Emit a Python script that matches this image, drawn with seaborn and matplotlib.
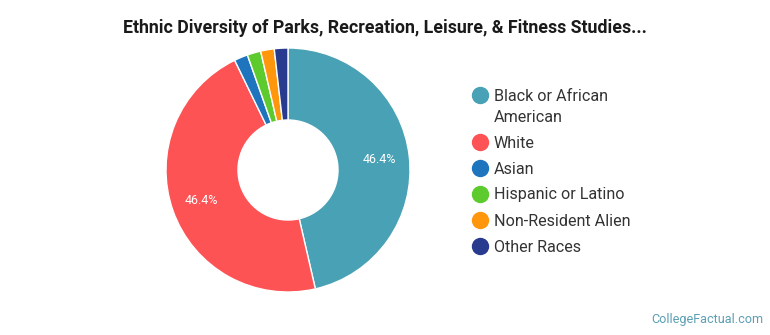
import matplotlib
matplotlib.use("Agg")
import matplotlib.pyplot as plt
from matplotlib.lines import Line2D
import numpy as np
import seaborn as sns

categories = ["Black or African\nAmerican", "White", "Asian",
              "Hispanic or Latino", "Non-Resident Alien", "Other Races"]
shares = [46.4, 46.4, 1.8, 1.8, 1.8, 1.8]
pct_labels = ["46.4%", "46.4%", "", "", "", ""]
colors = ["#48a1b4", "#fd5355", "#1f74be", "#5dcb2d", "#ff960c", "#283b8e"]

sns.set_theme(style="white")
plt.rcParams["font.family"] = ["Roboto", "DejaVu Sans"]

fig = plt.figure(figsize=(7.70, 3.35), dpi=100)
fig.patch.set_facecolor("white")

W, H = 770, 335
cx, cy, r = 288, 170, 122
ax = fig.add_axes([(cx - r) / W, (H - cy - r) / H, 2 * r / W, 2 * r / H])
palette = sns.color_palette(colors)

wedges, _ = ax.pie(shares, colors=palette, startangle=90, counterclock=False,
                   radius=1.0, wedgeprops=dict(width=0.59, edgecolor="white",
                                               linewidth=1.0))
ax.set_xlim(-1, 1)
ax.set_ylim(-1, 1)
ax.set_aspect("equal")
ax.axis("off")

for w, lab in zip(wedges, pct_labels):
    if not lab:
        continue
    ang = np.deg2rad((w.theta1 + w.theta2) / 2)
    ax.text(0.75 * np.cos(ang), 0.75 * np.sin(ang), lab, ha="center",
            va="center", color="white", fontsize=9)

fig.text(0.5, 1 - 28 / H, "Ethnic Diversity of Parks, Recreation, Leisure, & Fitness Studies...",
         ha="center", va="center", fontsize=12.8, fontweight="bold", color="#1a1a1a")

# legend: marker centred on the first line of each label
rows_y = [95, 142, 168, 194, 220, 246]
line_step = 21.5
for c, lab, yy in zip(palette, categories, rows_y):
    fig.add_artist(Line2D([480 / W], [1 - yy / H], marker="o", markersize=11.5,
                          color=c, linestyle="none", transform=fig.transFigure))
    for k, part in enumerate(lab.split("\n")):
        fig.text(494 / W, 1 - (yy + 5.5 + k * line_step) / H, part, ha="left",
                 va="baseline", fontsize=11.6, color="#333333")

fig.text(763 / W, 1 - 320 / H, "CollegeFactual.com", ha="right", va="center",
         fontsize=9.1, color="#5b9fb3")

fig.savefig("out.png", dpi=100, facecolor="white")
